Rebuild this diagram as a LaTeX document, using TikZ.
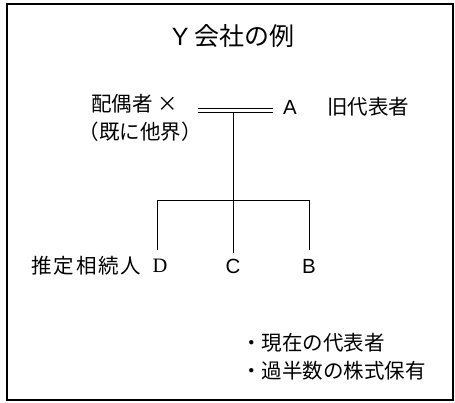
\documentclass[tikz,border=0pt]{standalone}
\usepackage{fontspec}
\setmainfont{Noto Sans CJK JP}
\newfontfamily\latinsans{Liberation Sans}
\newfontfamily\latinserif{Liberation Serif}
\begin{document}
\begin{tikzpicture}[x=1pt,y=-1pt,
  txt/.style={inner sep=0pt, font=\fontsize{20.5}{22}\selectfont},
  ttl/.style={inner sep=0pt, font=\fontsize{25}{27}\selectfont},
  frame/.style={draw=black, line width=1.5pt},
  tree/.style={draw=black, line width=1pt},
  marr/.style={draw=black, line width=1pt}]
\useasboundingbox (0,0) rectangle (455,403);
\draw[frame] (7,4) rectangle (453,400);
\node[ttl] (title) at (233,36) {{\latinsans Y} 会社の例};
\node[txt, anchor=west] (spouse) at (91,104) {配偶者 ×};
\node[txt] (died) at (140,132) {（既に他界）};
\node[txt] (A) at (290,107) {\latinsans A};
\node[txt, anchor=west] (old) at (327,107) {旧代表者};
\coordinate (m1a) at (198,109);
\coordinate (m2a) at (273,109);
\coordinate (m1b) at (198,112.5);
\coordinate (m2b) at (273,112.5);
\draw[marr] (m1a) -- (m2a);
\draw[marr] (m1b) -- (m2b);
\coordinate (J) at (233,112.5);
\coordinate (FD) at (157,201);
\coordinate (FB) at (309,201);
\node[txt] (D) at (160,266) {\latinserif D};
\node[txt] (C) at (233,266) {\latinsans C};
\node[txt] (B) at (309,266) {\latinsans B};
\node[txt, anchor=east] (heir) at (141,266) {\addfontfeatures{LetterSpace=8}推定相続人};
\coordinate (Dt) at (157,250);
\coordinate (Ct) at (233,253);
\coordinate (Bt) at (309,250);
\draw[tree] (J) -- (Ct);
\draw[tree] (Dt) -- (FD) -- (FB) -- (Bt);
\node[txt, anchor=west] (b1) at (241,343) {・現在の代表者};
\node[txt, anchor=west] (b2) at (241,371) {・過半数の株式保有};
\end{tikzpicture}
\end{document}
